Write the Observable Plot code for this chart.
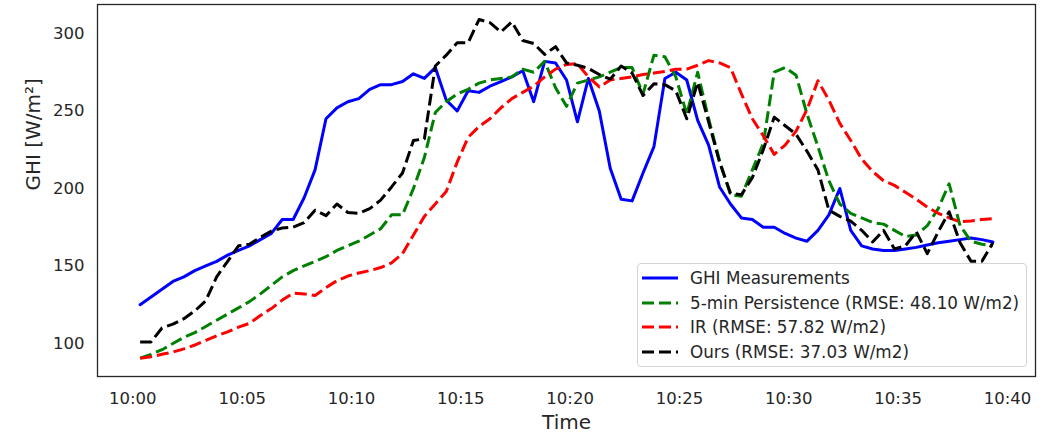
<!DOCTYPE html>
<html>
<head>
<meta charset="utf-8">
<script src="https://cdn.jsdelivr.net/npm/d3@7"></script>
<script src="https://cdn.jsdelivr.net/npm/@observablehq/plot@0.6"></script>
<style>
  body { margin: 0; background: #fff; }
  #chart { position: relative; width: 1046px; height: 433px; font-family: "DejaVu Sans", sans-serif; }
  .legend { position: absolute; left: 637px; top: 263px; width: 390px; height: 104px; box-sizing: border-box;
            border: 1px solid #d4d4d4; border-radius: 4px; background: rgba(255,255,255,0.85); }
  .row { position: absolute; left: 0; height: 24.5px; display: flex; align-items: center; }
  .row svg { margin-left: 4px; }
  .row span { margin-left: 12px; font-size: 16.8px; color: #262626; white-space: nowrap; }
</style>
</head>
<body>
<div id="chart"></div>
<script>
// Time stamps (30 s resolution)
const times = [
  "10:00:20","10:00:50","10:01:20","10:01:50","10:02:20","10:02:50","10:03:20","10:03:50","10:04:20","10:04:50",
  "10:05:20","10:05:50","10:06:20","10:06:50","10:07:20","10:07:50","10:08:20","10:08:50","10:09:20","10:09:50",
  "10:10:20","10:10:50","10:11:20","10:11:50","10:12:20","10:12:50","10:13:20","10:13:50","10:14:20","10:14:50",
  "10:15:20","10:15:50","10:16:20","10:16:50","10:17:20","10:17:50","10:18:20","10:18:50","10:19:20","10:19:50",
  "10:20:20","10:20:50","10:21:20","10:21:50","10:22:20","10:22:50","10:23:20","10:23:50","10:24:20","10:24:50",
  "10:25:20","10:25:50","10:26:20","10:26:50","10:27:20","10:27:50","10:28:20","10:28:50","10:29:20","10:29:50",
  "10:30:20","10:30:50","10:31:20","10:31:50","10:32:20","10:32:50","10:33:20","10:33:50","10:34:20","10:34:50",
  "10:35:20","10:35:50","10:36:20","10:36:50","10:37:20","10:37:50","10:38:20","10:38:50","10:39:20"
];
const ghi = [
  125,130,135,140,143,147,150,153,157,160,
  163,167,171,180,180,194,212,245,252,256,
  258,264,267,267,269,274,271,278,257,250,
  263,262,266,269,272,276,256,282,281,270,
  243,271,250,213,193,192,210,227,271,275,
  270,244,228,201,190,181,180,175,175,171,
  168,166,173,183,200,173,163,161,160,160,
  161,162,163.5,165,166,167,168,167,165.5
];
const persistence = [
  90.5,93,96,100,104,107,111,115,119,123,
  127,132,137.5,143,147,150,153,156,160,163,
  166,170,174,183,183,200,220,249,256,261,
  264,268,270,271,272,277,275,282,265,253,
  268,270,272,275,278,278,261,286,285,272,
  248,275,245,218,196,195,212,229,275,278,
  273,248,227,205,190,184,181,178,177,173,
  169,170,176,187,203,176,166,164,163
];
const ir = [
  90.5,91.5,93,94.5,96.5,99,102,105,107.5,110.5,
  113,118,122.5,128,132.5,132,131,136,140.5,143.5,
  145.5,147,149,152,158,170,182,190,198,217,
  233,240,245,252,258,262,266,272,277,280,
  280.5,272,265.5,270,271,272,273.5,274.5,275.5,277,
  277,279.5,282.5,281,278,261,245,234,222,228,
  237,251,269.5,257,242,231,219,211,205,202,
  197.5,193,188,184,181,178.5,179,180,180.5
];
const ours = [
  101,101,110,112.5,116,121,127.5,143,153,163,
  164,168.5,172.5,174.5,175,178,186,182.5,190,184.5,
  184,187,192.5,201,210,231,232,279,286,294,
  294,309,307,301,307.5,295.5,293.5,286.5,291.5,281,
  279.5,277.5,273.5,270.5,279,274.5,260,267.5,267,263,
  245,268.5,243,217,197,196,207,225,246,240.5,
  235,224,212,186,182,179,173,165.5,173,161,
  163,172,158,172,185,165,153,153,165
];
const xTickLabels = ["10:00","10:05","10:10","10:15","10:20","10:25","10:30","10:35","10:40"];
const yTicks = [100,150,200,250,300];
const seriesNames = [
  "GHI Measurements",
  "5-min Persistence (RMSE: 48.10 W/m2)",
  "IR (RMSE: 57.82 W/m2)",
  "Ours (RMSE: 37.03 W/m2)"
];
const seriesColors = ["#0000ff","#008000","#ff0000","#000000"];
const seriesValues = [ghi, persistence, ir, ours];

const day = "2023-01-01T";
const parse = s => new Date(day + s);
const dates = times.map(parse);
const xTicks = xTickLabels.map(s => parse(s + ":00"));
const span = dates[dates.length-1] - dates[0];
const xDomain = [new Date(+dates[0] - 0.05*span), new Date(+dates[dates.length-1] + 0.05*span)];

const series = seriesNames.map((name, k) => ({
  name, color: seriesColors[k], dashed: k > 0,
  data: dates.map((t, i) => ({time: t, value: seriesValues[k][i]}))
}));

const fmt = d3.timeFormat("%H:%M");
const plot = Plot.plot({
  width: 1046, height: 433,
  marginLeft: 97, marginRight: 11, marginTop: 4, marginBottom: 57,
  style: {fontFamily: "DejaVu Sans, sans-serif", fontSize: "16.5px", color: "#262626", background: "white"},
  x: {type: "time", domain: xDomain},
  y: {domain: [78.7, 318.7]},
  marks: [
    Plot.axisX({ticks: xTicks, tickFormat: fmt, tickSize: 0, tickPadding: 16, label: null, fontSize: 16.5}),
    Plot.axisY({ticks: yTicks, tickSize: 0, tickPadding: 13, label: null, fontSize: 16.5}),
    ...series.map(s => Plot.line(s.data, {
      x: "time", y: "value", stroke: s.color, strokeWidth: 3,
      strokeDasharray: s.dashed ? "12,5" : null,
      strokeLinecap: s.dashed ? "butt" : "round", strokeLinejoin: "round"
    })),
    Plot.frame({stroke: "#262626", strokeWidth: 1.3}),
    Plot.text(["Time"], {frameAnchor: "bottom", dy: 52, fontSize: 20, fill: "#262626"}),
    Plot.text(["GHI [W/m²]"], {frameAnchor: "left", dx: -64, rotate: -90, fontSize: 20, fill: "#262626"})
  ]
});

const chart = document.getElementById("chart");
chart.appendChild(plot);

const legend = document.createElement("div");
legend.className = "legend";
series.forEach((s, i) => {
  const row = document.createElement("div");
  row.className = "row";
  row.style.top = (2 + 24.5 * i) + "px";
  const dash = s.dashed ? 'stroke-dasharray="12,5"' : '';
  row.innerHTML = `<svg width="36" height="10"><line x1="0" y1="5" x2="36" y2="5" stroke="${s.color}" stroke-width="3" ${dash}/></svg><span>${s.name}</span>`;
  legend.appendChild(row);
});
chart.appendChild(legend);
</script>
</body>
</html>
